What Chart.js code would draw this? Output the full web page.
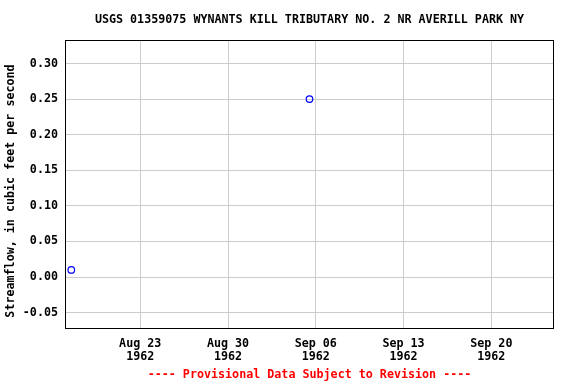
<!DOCTYPE html>
<html>
<head>
<meta charset="utf-8">
<script src="https://cdn.jsdelivr.net/npm/chart.js@4/dist/chart.umd.min.js"></script>
<style>
    body { margin: 0; background: #fff; }
    #wrap { width: 576px; height: 384px; }
</style>
</head>
<body>
<div id="wrap"><canvas id="flowChart" width="576" height="384"></canvas></div>
<script>
// Data
const obsDates = ['1962-08-17', '1962-09-05'];
const flowValues = [0.01, 0.25];
const xTickLabels = ['Aug 23', 'Aug 30', 'Sep 06', 'Sep 13', 'Sep 20'];
const xTickDays = [6, 13, 20, 27, 34];
const yTicks = [-0.05, 0, 0.05, 0.10, 0.15, 0.20, 0.25, 0.30];

const startDay = Date.UTC(1962, 7, 17);
const dayOf = s => (Date.parse(s + 'T12:00:00Z') - startDay) / 86400000;

const points = obsDates.map((d, i) => ({ x: dayOf(d), y: flowValues[i] }));
const monoFont = '"DejaVu Sans Mono", "Liberation Mono", monospace';

// title, footer, axis title and box around the plot
const frame = {
    id: 'frame',
    afterDraw(chart) {
        const ctx = chart.ctx;
        const a = chart.chartArea;
        const cx = (a.left + a.right) / 2;
        ctx.save();
        ctx.strokeStyle = '#000';
        ctx.lineWidth = 1;
        ctx.strokeRect(a.left + 0.5, a.top + 0.5, a.right - a.left - 1, a.bottom - a.top - 1);
        ctx.textAlign = 'center';
        ctx.textBaseline = 'middle';
        ctx.font = 'bold 11.7px ' + monoFont;
        ctx.fillStyle = '#000';
        ctx.fillText('USGS 01359075 WYNANTS KILL TRIBUTARY NO. 2 NR AVERILL PARK NY', cx, 20);
        ctx.save();
        ctx.translate(11, 191);
        ctx.rotate(-Math.PI / 2);
        ctx.fillText('Streamflow, in cubic feet per second', 0, 0);
        ctx.restore();
        ctx.fillStyle = '#f00';
        ctx.fillText('---- Provisional Data Subject to Revision ----', cx, 375);
        ctx.restore();
    }
};

new Chart(document.getElementById('flowChart').getContext('2d'), {
    type: 'scatter',
    data: {
        datasets: [{
            data: points,
            borderColor: '#0000ff',
            backgroundColor: 'rgba(0,0,0,0)',
            borderWidth: 1.2,
            pointRadius: 3.3,
            showLine: false
        }]
    },
    options: {
        responsive: false,
        animation: false,
        layout: { padding: { top: 40, right: 22, left: 0, bottom: 0 } },
        plugins: {
            legend: { display: false },
            tooltip: { enabled: false }
        },
        scales: {
            x: {
                type: 'linear',
                min: 0,
                max: 39,
                afterBuildTicks: s => { s.ticks = xTickDays.map(v => ({ value: v })); },
                afterFit: s => { s.height = 55; },
                grid: { color: '#cccccc', drawTicks: false },
                border: { display: false },
                ticks: {
                    padding: 9,
                    maxRotation: 0,
                    autoSkip: false,
                    color: '#000',
                    font: { family: monoFont, size: 11.7, weight: 'bold', lineHeight: 1.1 },
                    callback: (v, i) => [xTickLabels[i], '1962']
                }
            },
            y: {
                min: -0.073,
                max: 0.333,
                afterBuildTicks: s => { s.ticks = yTicks.map(v => ({ value: v })); },
                afterFit: s => { s.width = 65; },
                grid: { color: '#cccccc', drawTicks: false },
                border: { display: false },
                ticks: {
                    padding: 7,
                    color: '#000',
                    font: { family: monoFont, size: 11.7, weight: 'bold' },
                    callback: v => v.toFixed(2)
                }
            }
        }
    },
    plugins: [frame]
});
</script>
</body>
</html>
